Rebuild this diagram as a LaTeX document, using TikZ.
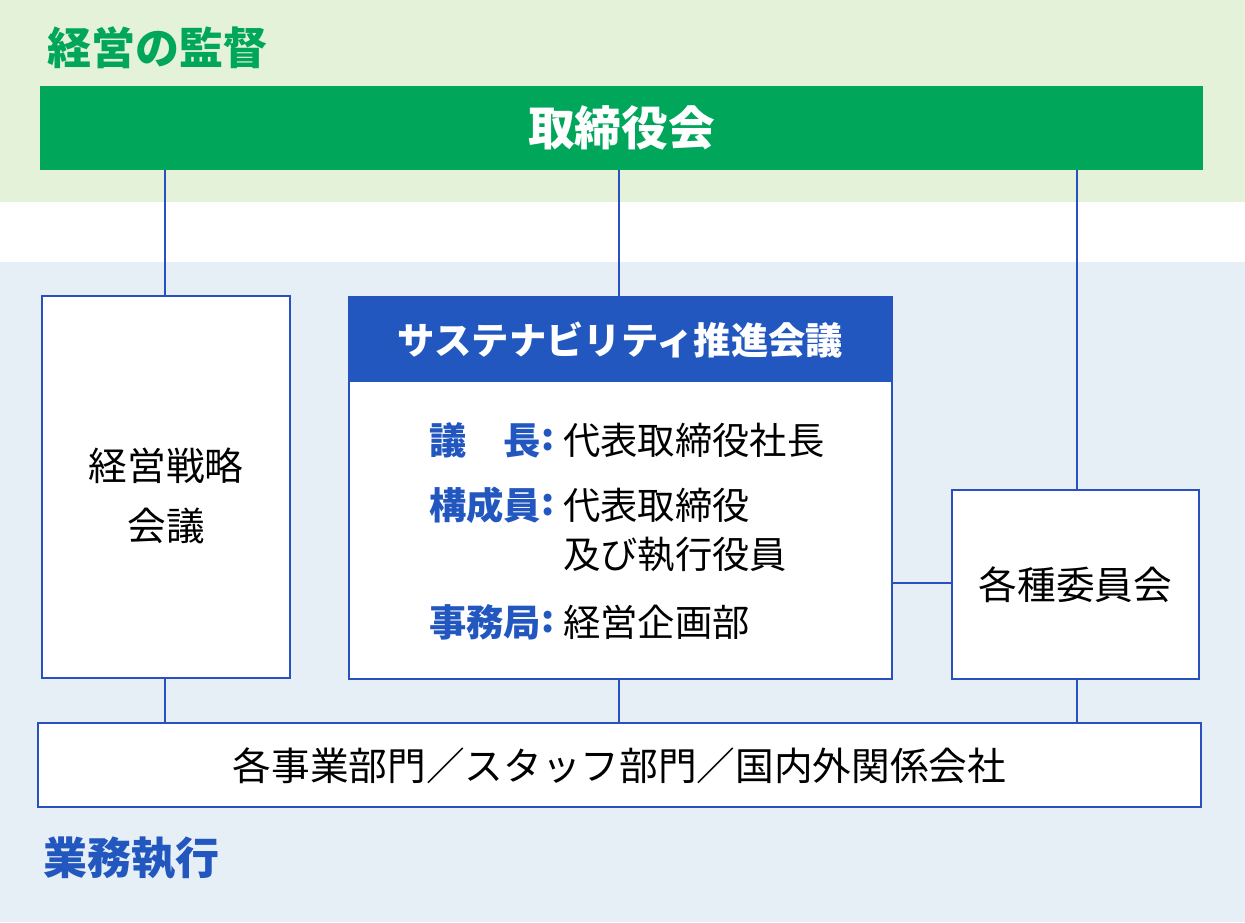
\documentclass[tikz,border=0pt]{standalone}
\usepackage{fontspec}
\setmainfont{Noto Sans CJK JP}
\definecolor{bandgreen}{RGB}{229,242,218}
\definecolor{bandblue}{RGB}{230,238,246}
\definecolor{boardgreen}{RGB}{0,166,90}
\definecolor{headblue}{RGB}{34,87,192}
\definecolor{linkblue}{RGB}{40,80,190}
\tikzset{
  orgbox/.style={draw=linkblue,fill=white,line width=0.8pt},
  link/.style={draw=linkblue,line width=0.8pt},
  bodytext/.style={inner sep=0pt,font=\fontsize{29}{34}\selectfont},
  labeltext/.style={inner sep=0pt,anchor=west,text=headblue,font=\fontsize{28}{34}\selectfont\bfseries},
  valuetext/.style={inner sep=0pt,anchor=west,font=\fontsize{28}{34}\selectfont}
}
\begin{document}
\begin{tikzpicture}[x=0.75pt,y=0.75pt,yscale=-1,xscale=1]
\useasboundingbox (0,0) rectangle (1245,922);
% bands
\fill[bandgreen] (0,0) rectangle (1245,202);
\fill[bandblue] (0,262) rectangle (1245,922);
% titles
\node[anchor=west,inner sep=0pt,text=boardgreen,font=\fontsize{33}{36}\selectfont\bfseries] (supervise) at (47,48) {経営の監督};
\node[anchor=west,inner sep=0pt,text=headblue,font=\fontsize{33}{36}\selectfont\bfseries] (execute) at (43,858) {業務執行};
% board
\fill[boardgreen] (40,86) rectangle (1203,170);
\node[text=white,inner sep=0pt,font=\fontsize{35}{40}\selectfont\bfseries] (board) at (621.5,128) {取締役会};
% boxes
\draw[orgbox] (42,296) rectangle (290,678);
\node[bodytext,align=center] (strategy) at (166,496) {経営戦略\\[11pt]会議};
\draw[orgbox] (349,297) rectangle (892,679);
\fill[headblue] (349,297) rectangle (892,382);
\node[text=white,inner sep=0pt,font=\fontsize{28}{34}\selectfont\bfseries] (council) at (620.5,340) {サステナビリティ推進会議};
\node[labeltext] (chair) at (429,440) {議　長};
\node[labeltext] (member) at (429,505) {構成員};
\node[labeltext] (office) at (429,622) {事務局};
\foreach \y/\n in {440/chairc,505/memberc,622/officec}
  \node[labeltext] (\n) at (541,\y) {:};
\node[valuetext] (chairv) at (563,440) {代表取締役社長};
\node[valuetext] (memberv) at (563,505) {代表取締役};
\node[valuetext] (memberw) at (563,555) {及び執行役員};
\node[valuetext] (officev) at (563,622) {経営企画部};
\draw[orgbox] (952,490) rectangle (1199,679);
\node[bodytext] (committee) at (1075.5,585) {各種委員会};
\draw[orgbox] (38,723) rectangle (1201,807);
\node[bodytext] (divisions) at (619.5,766) {各事業部門／スタッフ部門／国内外関係会社};
% connectors
\draw[link] (165,170) -- (165,296);
\draw[link] (619,170) -- (619,297);
\draw[link] (1077,170) -- (1077,490);
\draw[link] (892,583) -- (952,583);
\draw[link] (165,678) -- (165,723);
\draw[link] (619,679) -- (619,723);
\draw[link] (1077,679) -- (1077,723);
\end{tikzpicture}
\end{document}
